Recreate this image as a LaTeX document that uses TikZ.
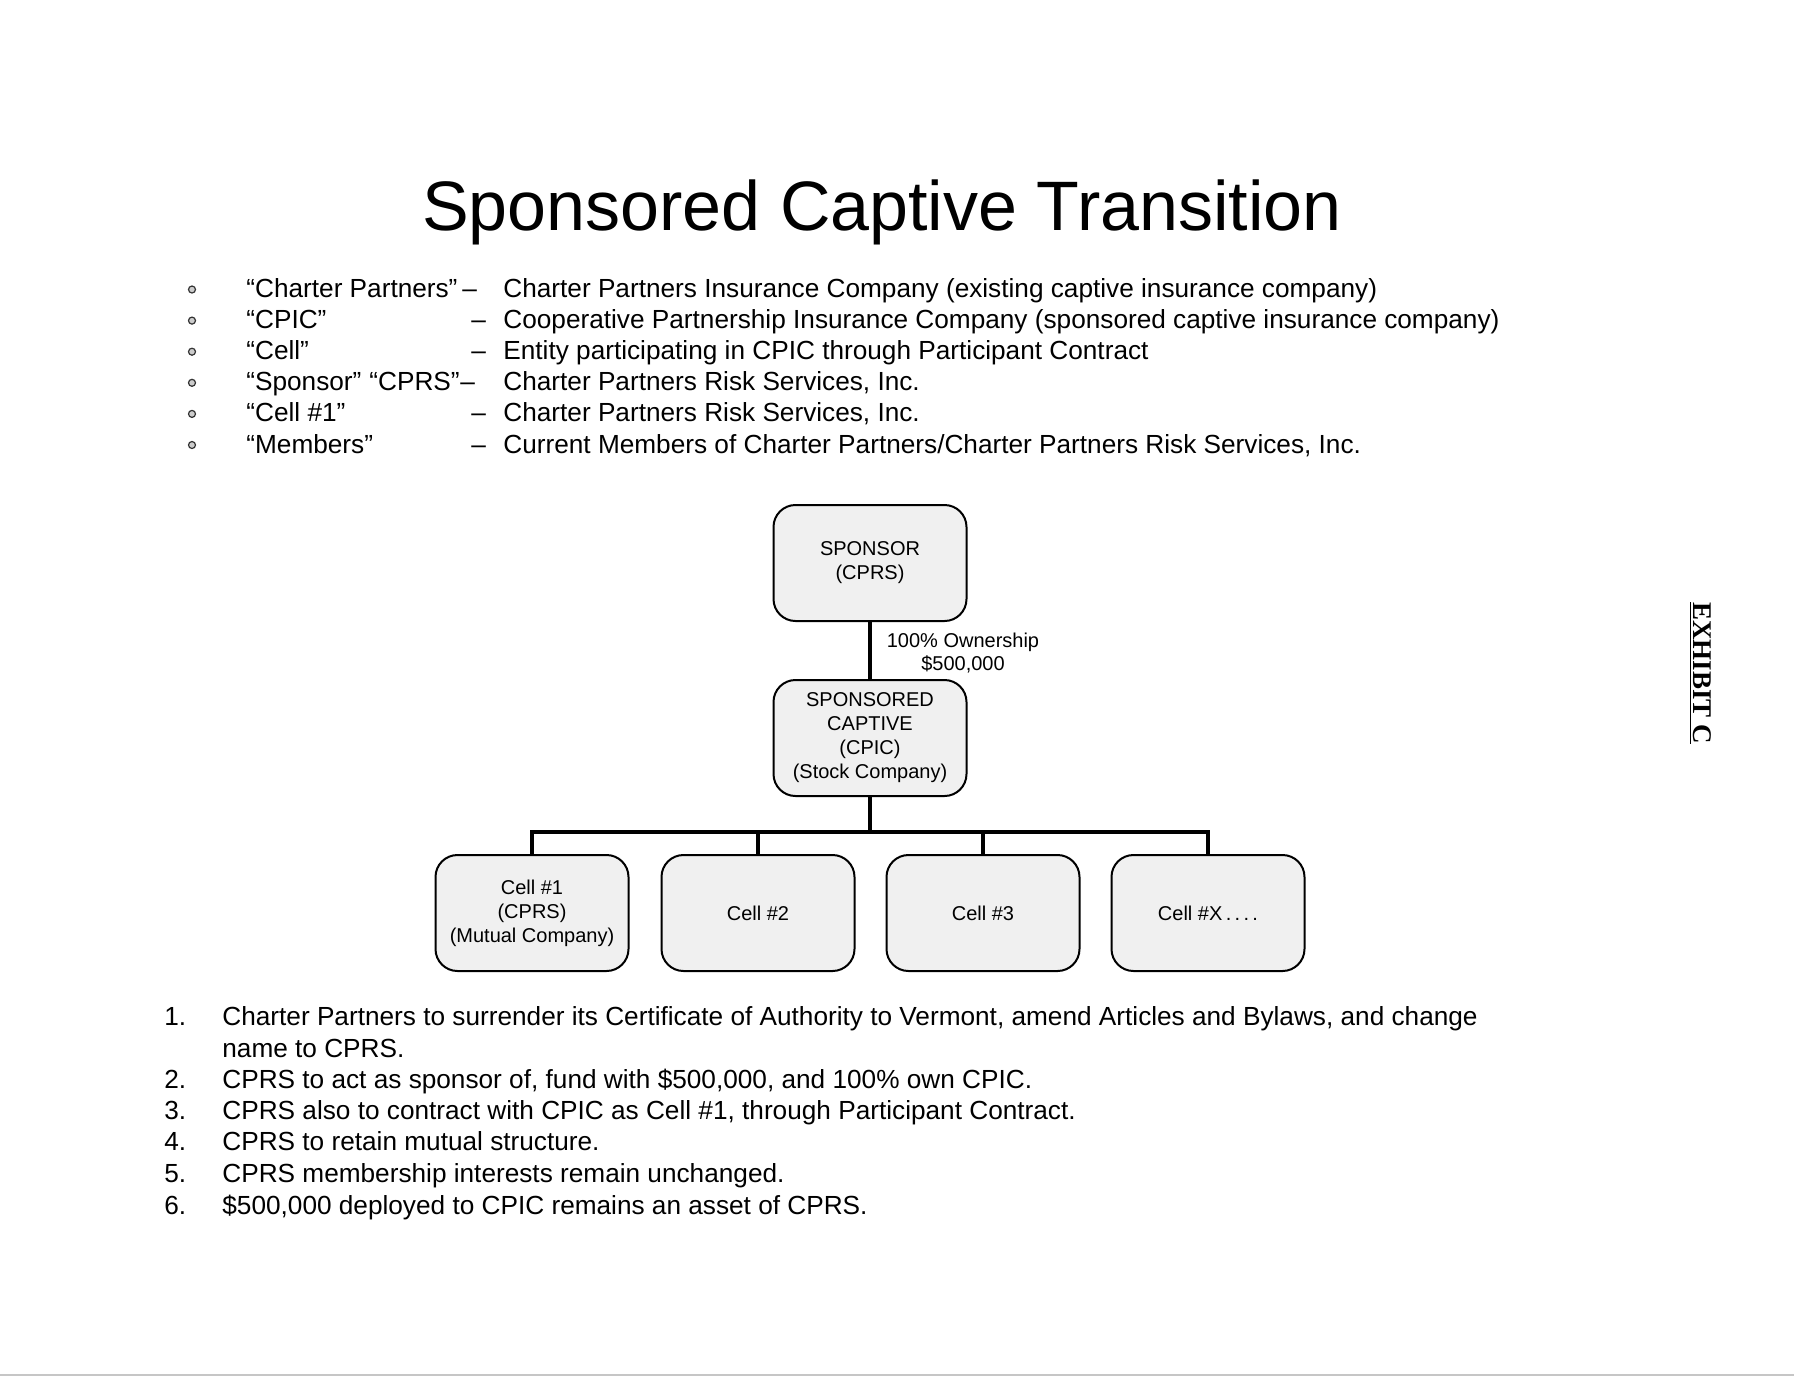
\documentclass[tikz,border=0pt]{standalone}
\usepackage{fontspec}
\setmainfont{Liberation Sans}
\newfontfamily\exhibitfont{Liberation Serif}
\begin{document}
\begin{tikzpicture}[x=0.5pt,y=-0.5pt,
    box/.style={draw,line width=1pt,rounded corners=11pt,fill=gray!12,minimum width=96.5pt,minimum height=58pt,align=center,inner sep=2pt,font=\fontsize{10}{12}\selectfont},
    conn/.style={line width=2pt},
    txt/.style={anchor=base west,inner sep=0pt,font=\fontsize{13.1}{15.7}\selectfont},
    bul/.style={circle,draw=black!80,fill=gray!40,line width=0.6pt,inner sep=0pt,minimum size=3.5pt}]
    \useasboundingbox (0,0) rectangle (1794,1378);
    \node[anchor=base,inner sep=0pt,font=\fontsize{35}{42}\selectfont] (title) at (882,230) {Sponsored Captive Transition};

    % Begriffe
    \foreach \lab/\dx/\desc [count=\i] in {
        {“Charter Partners”}/462/{Charter Partners Insurance Company (existing captive insurance company)},
        {“CPIC”}/471/{Cooperative Partnership Insurance Company (sponsored captive insurance company)},
        {“Cell”}/471/{Entity participating in CPIC through Participant Contract},
        {“Sponsor”\hspace{4pt}“CPRS”}/460/{Charter Partners Risk Services, Inc.},
        {“Cell \#1”}/471/{Charter Partners Risk Services, Inc.},
        {“Members”}/471/{Current Members of Charter Partners/Charter Partners Risk Services, Inc.}} {
        \pgfmathsetmacro{\yy}{297.5+(\i-1)*31.1}
        \node[bul] (dot\i) at (192,\yy-8) {};
        \node[txt] (lab\i) at (246,\yy) {\lab};
        \node[txt] (dash\i) at (\dx,\yy) {–};
        \node[txt] (desc\i) at (503,\yy) {\desc};
    }

    % Organigramm
    \node[box] (sponsor) at (870,563) {SPONSOR\\(CPRS)};
    \node[box] (captive) at (870,738) {SPONSORED\\CAPTIVE\\(CPIC)\\(Stock Company)};
    \node[box] (cell1) at (532,913) {Cell \#1\\(CPRS)\\(Mutual Company)};
    \node[box] (cell2) at (758,913) {Cell \#2};
    \node[box] (cell3) at (983,913) {Cell \#3};
    \node[box] (cell4) at (1208,913) {Cell \#X\,.\,.\,.\,.};
    \coordinate (bar) at (870,832);

    \draw[conn] (sponsor) -- (captive);
    \node[align=center,inner sep=0pt,font=\fontsize{10}{11.5}\selectfont] (own) at (963,653) {100\% Ownership\\\$500,000};
    \draw[conn] (captive) -- (bar);
    \draw[conn] (cell1.north) |- (bar) -| (cell4.north);
    \foreach \c in {cell2,cell3}
        \draw[conn] (\c.north) -- (\c.north |- bar);

    \node[rotate=-90,inner sep=0pt,font=\exhibitfont\bfseries\fontsize{13.5}{16}\selectfont] (exhibit) at (1700,673) {\underline{EXHIBIT C}};

    % Schritte
    \node[txt] (num1) at (164,1025) {1.};
    \node[txt] (step1) at (222,1025) {Charter Partners to surrender its Certificate of Authority to Vermont, amend Articles and Bylaws, and change};
    \node[txt] (step1b) at (222,1057) {name to CPRS.};
    \node[txt] (num2) at (164,1088) {2.};
    \node[txt] (step2) at (222,1088) {CPRS to act as sponsor of, fund with \$500,000, and 100\% own CPIC.};
    \node[txt] (num3) at (164,1119) {3.};
    \node[txt] (step3) at (222,1119) {CPRS also to contract with CPIC as Cell \#1, through Participant Contract.};
    \node[txt] (num4) at (164,1150) {4.};
    \node[txt] (step4) at (222,1150) {CPRS to retain mutual structure.};
    \node[txt] (num5) at (164,1182) {5.};
    \node[txt] (step5) at (222,1182) {CPRS membership interests remain unchanged.};
    \node[txt] (num6) at (164,1214) {6.};
    \node[txt] (step6) at (222,1214) {\$500,000 deployed to CPIC remains an asset of CPRS.};

    \draw[gray!45,line width=1pt] (0,1375) -- (1794,1375);
\end{tikzpicture}
\end{document}
